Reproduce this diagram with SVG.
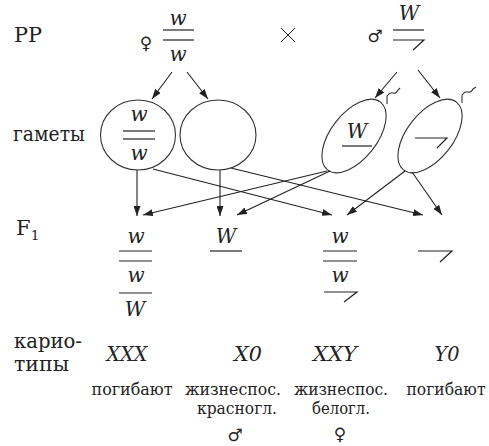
<svg xmlns="http://www.w3.org/2000/svg" width="489" height="446" viewBox="0 0 489 446">
<style>
text{font-family:"DejaVu Serif","Liberation Serif",serif;fill:#222}
.lbl{font-size:21px}
.it{font-style:italic;font-size:20px;text-anchor:middle}
.sm{font-size:16px;text-anchor:middle}
.sym{font-family:"DejaVu Sans",sans-serif;font-size:17px;text-anchor:middle}
.ln{stroke:#222;stroke-width:1.2;fill:none}
.sh{stroke:#333;stroke-width:1.1;fill:none}
.ar{stroke:#222;stroke-width:1.1;fill:none;marker-end:url(#ah)}
</style>
<defs>
<marker id="ah" markerUnits="userSpaceOnUse" markerWidth="10" markerHeight="7" refX="10" refY="3.5" orient="auto">
<path d="M0,0 L10,3.5 L0,7 z" fill="#222"/>
</marker>
</defs>

<g id="labels">
<text class="lbl" x="14" y="42" textLength="28" lengthAdjust="spacingAndGlyphs">PP</text>
<text class="lbl" x="13" y="141" textLength="72" lengthAdjust="spacingAndGlyphs">гаметы</text>
<text class="lbl" x="16" y="235">F</text>
<text class="lbl" x="31" y="240" style="font-size:13px">1</text>
<text class="lbl" x="14" y="348" textLength="68" lengthAdjust="spacingAndGlyphs">карио-</text>
<text class="lbl" x="14" y="371" textLength="55" lengthAdjust="spacingAndGlyphs">типы</text>
</g>

<g id="parent-female">
<text class="sym" x="146" y="49">♀</text>
<text class="it" x="178" y="25">w</text>
<line class="ln" x1="163" y1="30" x2="194" y2="30"/>
<line class="ln" x1="163" y1="40" x2="194" y2="40"/>
<text class="it" x="178" y="61">w</text>
</g>

<g id="cross">
<line class="ln" x1="281" y1="28" x2="295" y2="42" style="stroke-width:1"/>
<line class="ln" x1="281" y1="42" x2="295" y2="28" style="stroke-width:1"/>
</g>

<g id="parent-male">
<text class="sym" x="375" y="42">♂</text>
<text class="it" x="409" y="20">W</text>
<line class="ln" x1="393" y1="30" x2="424" y2="30"/>
<path class="ln" d="M393,40 L424,40 L413,50"/>
</g>

<g id="gamete-f1">
<ellipse class="sh" cx="138" cy="135" rx="37.5" ry="35"/>
<text class="it" x="139" y="121">w</text>
<line class="ln" x1="123" y1="131" x2="155" y2="131"/>
<line class="ln" x1="123" y1="139" x2="155" y2="139"/>
<text class="it" x="139" y="160">w</text>
</g>

<g id="gamete-f2">
<ellipse class="sh" cx="218" cy="135" rx="38" ry="35"/>
</g>

<g id="gamete-m1">
<ellipse class="sh" cx="354" cy="136" rx="43" ry="23" transform="rotate(-52 354 136)"/>
<path class="sh" d="M387,104 L387,96 Q390,92 393,93 Q396,94 398,90 L400,88"/>
<text class="it" x="357" y="138">W</text>
<line class="ln" x1="342" y1="146" x2="372" y2="146"/>
</g>

<g id="gamete-m2">
<ellipse class="sh" cx="430" cy="136" rx="43" ry="23" transform="rotate(-52 430 136)"/>
<path class="sh" d="M462,103 L462,95 Q465,91 468,92 Q471,93 473,89 L476,87"/>
<path class="ln" d="M415,138 L447,138 L437,148"/>
</g>

<g id="f1-xxx">
<text class="it" x="136" y="243">w</text>
<line class="ln" x1="119" y1="251" x2="152" y2="251"/>
<line class="ln" x1="119" y1="261" x2="152" y2="261"/>
<text class="it" x="136" y="282">w</text>
<line class="ln" x1="119" y1="293" x2="152" y2="293"/>
<text class="it" x="135" y="316">W</text>
</g>

<g id="f1-x0">
<text class="it" x="226" y="243">W</text>
<line class="ln" x1="210" y1="251" x2="242" y2="251"/>
</g>

<g id="f1-xxy">
<text class="it" x="340" y="243">w</text>
<line class="ln" x1="323" y1="251" x2="357" y2="251"/>
<line class="ln" x1="323" y1="261" x2="357" y2="261"/>
<text class="it" x="340" y="282">w</text>
<path class="ln" d="M324,292 L357,292 L344,302"/>
</g>

<g id="f1-y0">
<path class="ln" d="M418,251 L452,251 L440,262"/>
</g>

<g id="karyotypes">
<text class="it" x="127" y="361" textLength="41" lengthAdjust="spacingAndGlyphs">XXX</text>
<text class="it" x="248" y="361" textLength="28" lengthAdjust="spacingAndGlyphs">X0</text>
<text class="it" x="335" y="361" textLength="44" lengthAdjust="spacingAndGlyphs">XXY</text>
<text class="it" x="447" y="361" textLength="25" lengthAdjust="spacingAndGlyphs">Y0</text>
<text class="sm" x="132" y="395" textLength="81" lengthAdjust="spacingAndGlyphs">погибают</text>
<text class="sm" x="233" y="395" textLength="96" lengthAdjust="spacingAndGlyphs">жизнеспос.</text>
<text class="sm" x="237" y="414" textLength="80" lengthAdjust="spacingAndGlyphs">красногл.</text>
<text class="sym" x="235" y="441">♂</text>
<text class="sm" x="341" y="395" textLength="94" lengthAdjust="spacingAndGlyphs">жизнеспос.</text>
<text class="sm" x="341" y="414" textLength="58" lengthAdjust="spacingAndGlyphs">белогл.</text>
<text class="sym" x="340" y="440">♀</text>
<text class="sm" x="446" y="395" textLength="79" lengthAdjust="spacingAndGlyphs">погибают</text>
</g>

<g id="connectors">
<line class="ar" x1="172" y1="72" x2="152" y2="99"/>
<line class="ar" x1="187" y1="72" x2="208" y2="99"/>
<line class="ar" x1="397" y1="72" x2="375" y2="98"/>
<line class="ar" x1="418" y1="70" x2="440" y2="98"/>
<line class="ar" x1="137" y1="170" x2="137" y2="216"/>
<line class="ar" x1="153" y1="169" x2="332" y2="215"/>
<line class="ar" x1="220" y1="170" x2="220" y2="216"/>
<line class="ar" x1="231" y1="168" x2="423" y2="215"/>
<line class="ar" x1="327" y1="171" x2="143" y2="215"/>
<line class="ar" x1="330" y1="171" x2="237" y2="215"/>
<line class="ar" x1="405" y1="171" x2="347" y2="215"/>
<line class="ar" x1="412" y1="172" x2="442" y2="215"/>
</g>
</svg>
